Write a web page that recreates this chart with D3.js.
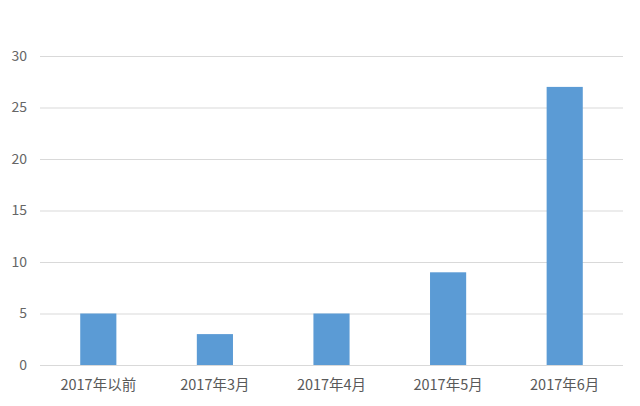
<!DOCTYPE html>
<html>
<head>
<meta charset="utf-8">
<script src="https://cdn.jsdelivr.net/npm/d3@7"></script>
<style>
  html, body { margin: 0; padding: 0; background: #fff; }
  svg { display: block; }
</style>
</head>
<body>
<svg id="chart" width="640" height="406"></svg>
<script>
const categories = ["2017年以前", "2017年3月", "2017年4月", "2017年5月", "2017年6月"];
const values = [5, 3, 5, 9, 27];
const yTicks = [0, 5, 10, 15, 20, 25, 30];

const svg = d3.select("#chart");
const margin = {left: 40, right: 17, top: 56, bottom: 41};
const W = 640, H = 406;

const x = d3.scaleBand().domain(categories).range([margin.left, W - margin.right]).paddingInner(0.69).paddingOuter(0.345);
const y = d3.scaleLinear().domain([0, 30]).range([H - margin.bottom, margin.top]);

const font = "'Microsoft YaHei', 'Noto Sans CJK SC', sans-serif";

// gridlines
svg.append("g").selectAll("line").data(yTicks).join("line")
  .attr("x1", margin.left).attr("x2", W - margin.right)
  .attr("y1", d => y(d) + 0.5).attr("y2", d => y(d) + 0.5)
  .attr("stroke", "#d9d9d9").attr("stroke-width", 1);

// y axis labels
const yAxis = d3.axisLeft(y).tickValues(yTicks).tickSize(0).tickPadding(0);
const yg = svg.append("g").attr("transform", `translate(${margin.left - 13},0)`).call(yAxis);
yg.select(".domain").remove();
yg.selectAll("text").attr("fill", "#666666").style("font-family", font).style("font-size", "14px");

// bars
svg.append("g").selectAll("rect").data(values).join("rect")
  .attr("x", (d, i) => x(categories[i]))
  .attr("width", x.bandwidth())
  .attr("y", d => y(d))
  .attr("height", d => y(0) - y(d))
  .attr("fill", "#5b9bd5");

// x axis labels
const xAxis = d3.axisBottom(x).tickSize(0).tickPadding(15);
const xg = svg.append("g").attr("transform", `translate(0,${y(0)})`).call(xAxis);
xg.select(".domain").remove();
xg.selectAll("text").attr("fill", "#595959").style("font-family", font).style("font-size", "14.5px");
</script>
</body>
</html>
